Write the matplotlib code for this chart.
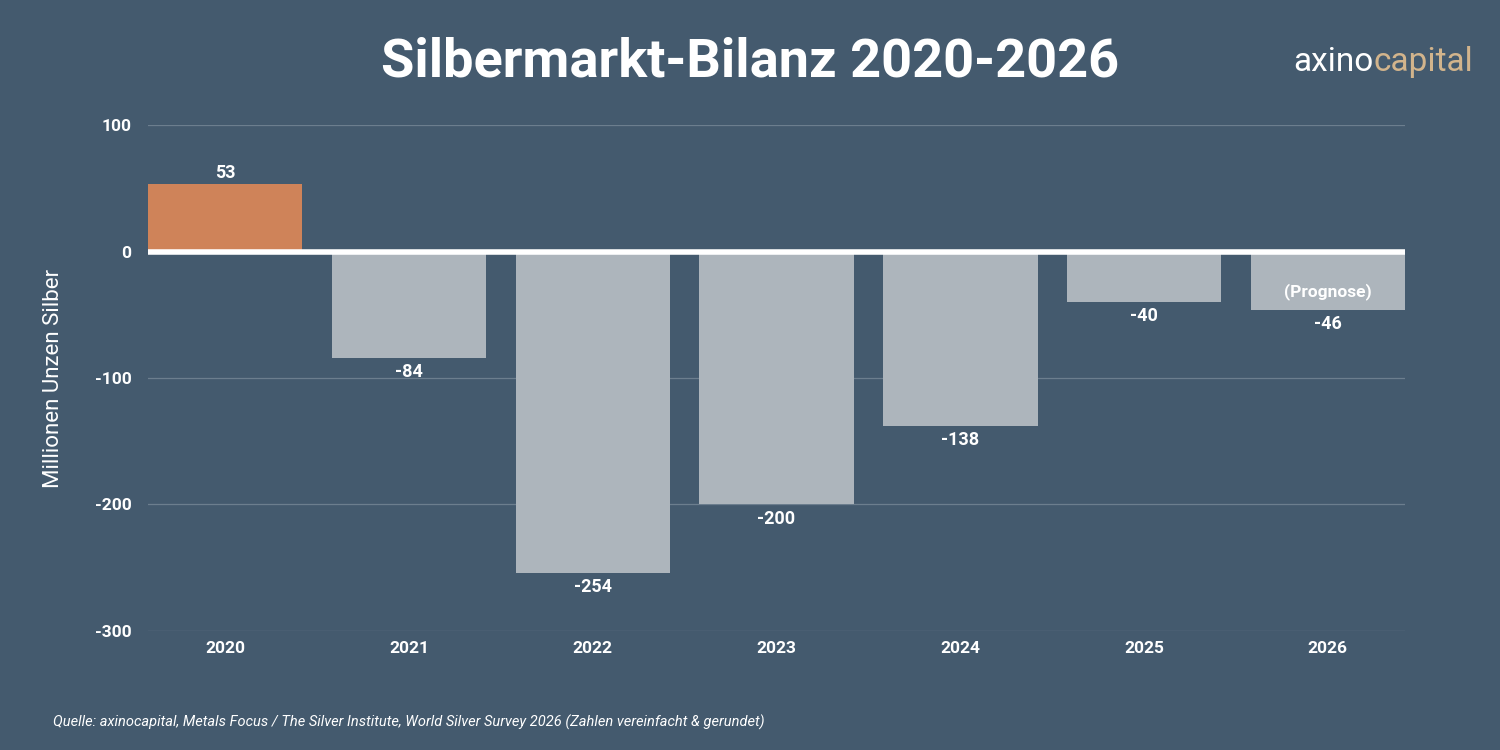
import matplotlib
matplotlib.use("Agg")
import matplotlib.pyplot as plt

years = ["2020", "2021", "2022", "2023", "2024", "2025", "2026"]
values = [53, -84, -254, -200, -138, -40, -46]
yticks = [100, 0, -100, -200, -300]

bg = "#445a6e"
plt.rcParams['font.family'] = ['Roboto', 'DejaVu Sans']
fig = plt.figure(figsize=(15, 7.5), dpi=100, facecolor=bg)
ax = fig.add_axes([0.0987, 0.1587, 0.838, 0.6746], facecolor=bg)
x = list(range(len(years)))
colors = ["#cf8359" if v > 0 else "#adb5bc" for v in values]
ax.bar(x, values, width=0.84, color=colors, zorder=2)
ax.set_xlim(-0.42, 6.42)
ax.set_ylim(-300, 100)
ax.set_yticks(yticks)
ax.set_yticklabels([str(t) for t in yticks])
ax.set_xticks(x)
ax.set_xticklabels(years)
for t in ax.get_xticklabels() + ax.get_yticklabels():
    t.set_color("white"); t.set_fontweight("bold"); t.set_fontsize(12.5)
ax.tick_params(axis='x', length=0, pad=7)
ax.tick_params(axis='y', length=0, pad=12)
for y in yticks:
    if y != 0:
        ax.axhline(y, color="#6c7e8e", lw=0.9, zorder=1)
ax.axhline(0, color="white", lw=4, zorder=3)
for s in ax.spines.values():
    s.set_visible(False)
ax.set_ylabel("Millionen Unzen Silber", color="white", fontsize=16, labelpad=22)
for xi, v in zip(x, values):
    if v > 0:
        ax.text(xi, v + 2, str(v), ha="center", va="bottom", color="white", fontweight="bold", fontsize=13)
    else:
        ax.text(xi, v - 4, str(v), ha="center", va="top", color="white", fontweight="bold", fontsize=13)
ax.text(6, -32, "(Prognose)", ha="center", va="center", color="white", fontweight="bold", fontsize=12.5)

fig.text(0.5, 0.917, "Silbermarkt-Bilanz 2020-2026", ha="center", va="center", color="white", fontweight="bold", fontsize=39)
t1 = fig.text(0.862, 0.917, "axino", ha="left", va="center", color="white", fontsize=24)
ax.annotate("capital", xy=(1, 0), xycoords=t1, ha="left", va="bottom", color="#d2b48c", fontsize=24,
            annotation_clip=False)
fig.text(0.035, 0.037, "Quelle: axinocapital, Metals Focus / The Silver Institute, World Silver Survey 2026 (Zahlen vereinfacht & gerundet)",
         ha="left", va="center", color="white", fontstyle="italic", fontsize=10.5)
fig.savefig("out.png", facecolor=bg)
